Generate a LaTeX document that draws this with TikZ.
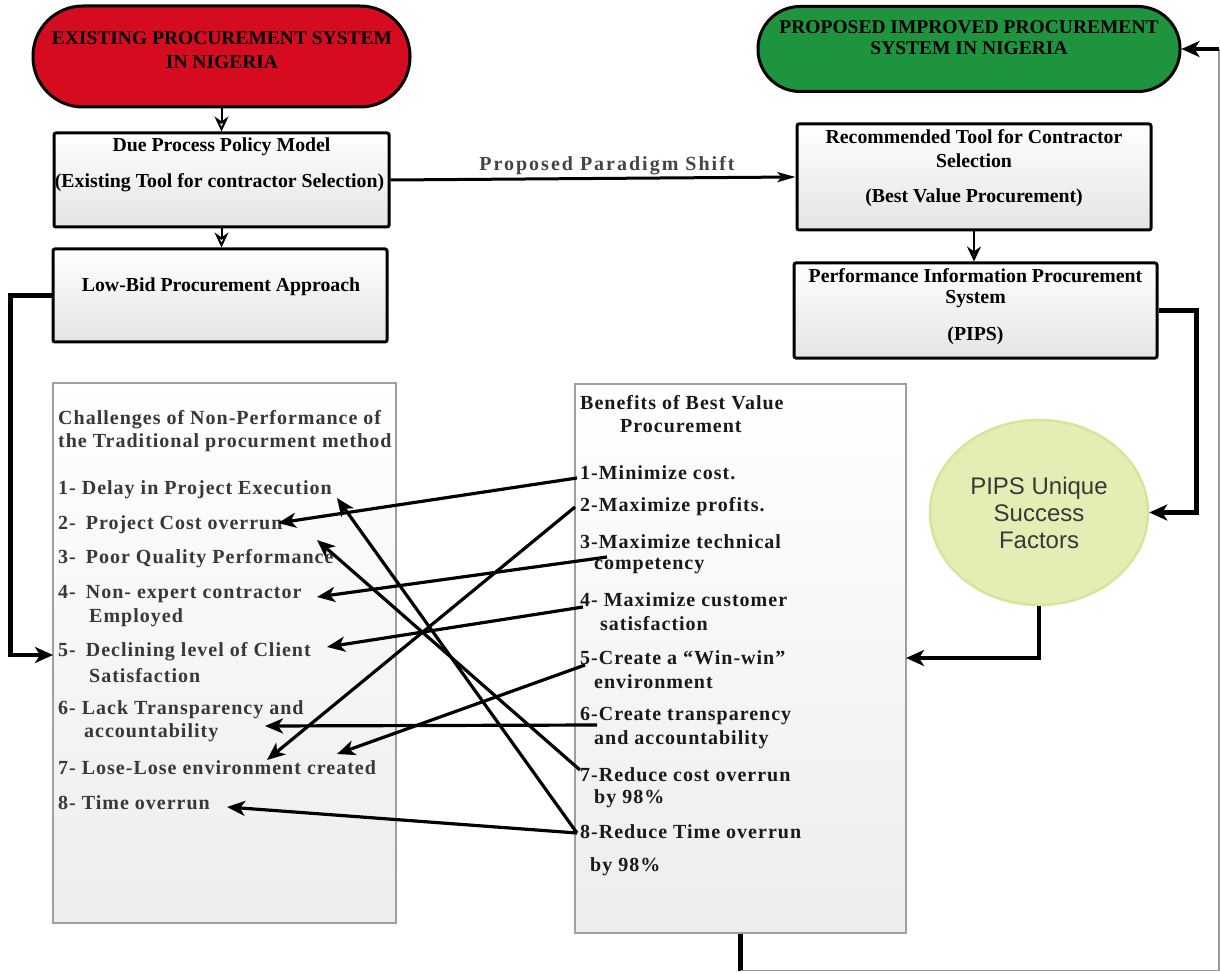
\documentclass[tikz,border=0pt]{standalone}
\usepackage{fontspec}
\setmainfont{Liberation Serif}
\newfontfamily\sansfam{Liberation Sans}
\newfontfamily\spacedfam[LetterSpace=5]{Liberation Serif}
\newfontfamily\widefam[LetterSpace=10]{Liberation Serif}
\usetikzlibrary{arrows.meta,shapes.geometric}
\definecolor{redfill}{HTML}{D50C1F}
\definecolor{greenfill}{HTML}{1F943F}
\definecolor{ellfill}{HTML}{E4EDB4}
\definecolor{elldraw}{HTML}{D6E59A}
\definecolor{txtgray}{HTML}{383838}
\definecolor{lblgray}{HTML}{444444}
\definecolor{boxbot}{HTML}{E4E4E4}
\definecolor{panelbot}{HTML}{EDEDED}
\begin{document}
\begin{tikzpicture}[x=1pt,y=-1pt,
  pill/.style={draw=black, line width=3pt},
  ttl/.style={inner sep=0pt, font=\bfseries\fontsize{19.5}{22}\selectfont},
  box/.style={draw=black, line width=3pt, rounded corners=2pt, top color=white, bottom color=boxbot},
  btxt/.style={inner sep=0pt, font=\bfseries\fontsize{19.8}{22}\selectfont},
  panel/.style={draw=gray!75, line width=1.2pt, top color=white, bottom color=panelbot},
  citm/.style={anchor=west, inner sep=0pt, text=txtgray, font=\spacedfam\bfseries\fontsize{20}{22}\selectfont},
  bitm/.style={anchor=west, inner sep=0pt, text=black!90, font=\spacedfam\bfseries\fontsize{20}{22}\selectfont},
  openarr/.style={line width=2pt, -{Stealth[open, length=15pt, width=14pt]}},
  conn/.style={line width=4.5pt, -{Stealth[length=18pt, width=16pt, inset=5pt]}},
  iconn/.style={line width=3.2pt, -{Stealth[length=18pt, width=15pt, inset=5pt]}},
  para/.style={line width=3pt, -{Stealth[length=18pt, width=10pt, inset=4pt]}},
  plain/.style={line width=4.5pt},
  thin/.style={draw=gray!80, line width=1.3pt}
]
\useasboundingbox (0,0) rectangle (1220,973);

% --- top pills
\node[pill, fill=redfill, minimum width=377pt, minimum height=101pt, rounded corners=50pt] (exist) at (221.5,56.5) {};
\node[ttl] (existT1) at (222,38) {EXISTING PROCUREMENT SYSTEM};
\node[ttl] (existT2) at (222,62) {IN NIGERIA};

\node[pill, fill=greenfill, minimum width=422pt, minimum height=85pt, rounded corners=42pt] (prop) at (969,49) {};
\node[ttl] (propT1) at (969,27) {PROPOSED IMPROVED PROCUREMENT};
\node[ttl] (propT2) at (969,48) {SYSTEM IN NIGERIA};

% --- boxes
\node[box, minimum width=335pt, minimum height=94pt] (due) at (221.5,180) {};
\node[btxt] (dueT1) at (221.5,147) {Due Process Policy Model};
\node[btxt] (dueT2) at (219.5,183) {(Existing Tool for contractor Selection)};

\node[box, minimum width=334pt, minimum height=93pt] (low) at (220,295.5) {};
\node[btxt] (lowT) at (221,287) {Low-Bid Procurement Approach};

\node[box, minimum width=354pt, minimum height=106pt] (rec) at (974,177) {};
\node[btxt] (recT1) at (974,137) {Recommended Tool for Contractor};
\node[btxt] (recT2) at (974,161) {Selection};
\node[btxt] (recT3) at (974,198) {(Best Value Procurement)};

\node[box, minimum width=363pt, minimum height=95pt] (pips) at (975.5,310.5) {};
\node[btxt] (pipsT1) at (975.5,276) {Performance Information Procurement};
\node[btxt] (pipsT2) at (975.5,299) {System};
\node[btxt] (pipsT3) at (975.5,336) {(PIPS)};

% --- panels
\node[panel, minimum width=343pt, minimum height=540pt] (chal) at (224.5,653) {};
\node[panel, minimum width=331pt, minimum height=549pt] (ben) at (740.5,658.5) {};

% --- ellipse
\node[ellipse, fill=ellfill, draw=elldraw, line width=2.5pt, minimum width=218pt, minimum height=185pt,
      align=center, text=txtgray, font=\sansfam\fontsize{24}{27}\selectfont] (csf) at (1039,512.5) {PIPS Unique\\Success\\Factors};

% --- challenge texts
\node[citm] (c0a) at (58,420) {Challenges of Non-Performance of};
\node[citm] (c0b) at (58,443) {the Traditional procurment method};
\node[citm] (c1) at (58,490) {1- Delay in Project Execution};
\node[citm] (c2) at (58,525) {2-\enspace Project Cost overrun};
\node[citm] (c3) at (58,559) {3-\enspace Poor Quality Performance};
\node[citm] (c4) at (58,594) {4-\enspace Non- expert contractor};
\node[citm] (c4b) at (89,618) {Employed};
\node[citm] (c5) at (58,652) {5-\enspace Declining level of Client};
\node[citm] (c5b) at (89,676) {Satisfaction};
\node[citm] (c6) at (58,710) {6- Lack Transparency and};
\node[citm] (c6b) at (84,733) {accountability};
\node[citm] (c7) at (58,768) {7- Lose-Lose environment created};
\node[citm] (c8) at (58,803) {8- Time overrun};

% --- benefit texts
\node[bitm] (bt1) at (580,403) {Benefits of Best Value};
\node[bitm] (bt2) at (620,426) {Procurement};
\node[bitm] (b1) at (580,473) {1-Minimize cost.};
\node[bitm] (b2) at (580,507) {2-Maximize profits.};
\node[bitm] (b3) at (580,542) {3-Maximize technical};
\node[bitm] (b3b) at (594,566) {competency};
\node[bitm] (b4) at (580,600) {4- Maximize customer};
\node[bitm] (b4b) at (600,624) {satisfaction};
\node[bitm] (b5) at (580,658) {5-Create a “Win-win”};
\node[bitm] (b5b) at (594,682) {environment};
\node[bitm] (b6) at (580,716) {6-Create transparency};
\node[bitm] (b6b) at (594,740) {and accountability};
\node[bitm] (b7) at (580,775) {7-Reduce cost overrun};
\node[bitm] (b7b) at (594,799) {by 98\%};
\node[bitm] (b8) at (580,832) {8-Reduce Time overrun};
\node[bitm] (b8b) at (590,867) {by 98\%};

% --- arrow tip coordinates
\coordinate (t1) at (278,523);
\coordinate (t2) at (267,760);
\coordinate (t3) at (317,597);
\coordinate (t4) at (327,647);
\coordinate (t5) at (337,754);
\coordinate (t6) at (265,726);
\coordinate (t7) at (317,540);
\coordinate (t8a) at (337,498);
\coordinate (t8b) at (227,807);
\coordinate (c5in) at (53,655);
\coordinate (benin) at (906,658);
\coordinate (lp2) at (1219,49);

% --- main flow connectors
\draw[openarr] (exist.south) -- (due.north);
\draw[openarr] (due.south) -- (due.south |- low.north);
\draw[openarr, line width=2.5pt] (rec.south) -- (rec.south |- pips.north);
\draw[para] (due.east) -- (rec.west);
\node[inner sep=0pt, text=lblgray, font=\widefam\bfseries\fontsize{20}{22}\selectfont] (shift) at (607,166) {Proposed Paradigm Shift};

\draw[conn] (low.west) -- ++(-41,0) |- (c5in);
\draw[conn] (pips.east) -- ++(38,0) |- (csf.east);
\draw[conn] (csf.south) |- (benin);

\draw[plain] (ben.south) -- ++(0,37) coordinate (lp1);
\draw[thin] (lp1) -| (lp2);
\draw[conn] (lp2) -- (prop.east);

% --- benefit to challenge connectors
\draw[iconn] ([shift={(-3,5)}]b1.west) -- (t1);
\draw[iconn] ([shift={(-5,0)}]b2.west) -- (t2);
\draw[iconn] ([shift={(13,-9)}]b3b.west) -- (t3);
\draw[iconn] ([shift={(3,7)}]b4.west) -- (t4);
\draw[iconn] ([shift={(5,7)}]b5.west) -- (t5);
\draw[iconn] ([shift={(17,9)}]b6.west) -- (t6);
\draw[iconn] ([shift={(0,-5)}]b7.west) -- (t7);
\draw[iconn] ([shift={(-3,1)}]b8.west) -- (t8a);
\draw[iconn] ([shift={(-3,1)}]b8.west) -- (t8b);
\end{tikzpicture}
\end{document}
